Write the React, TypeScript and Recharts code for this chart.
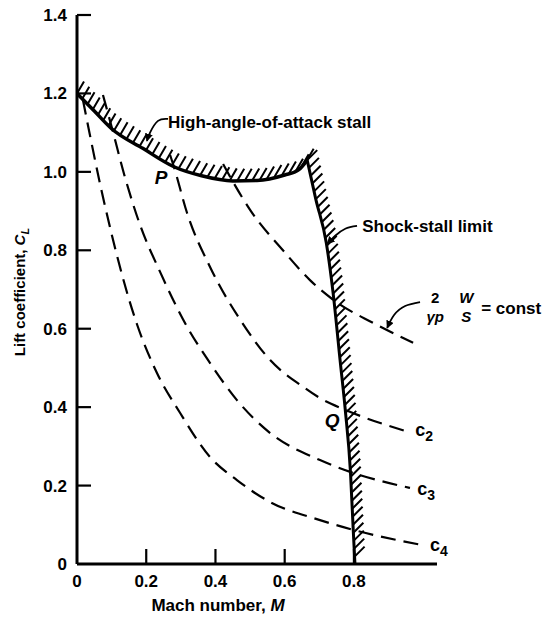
import { ComposedChart, Line, XAxis, YAxis, ReferenceDot } from 'recharts'

// axis ticks
const machTicks = [0, 0.2, 0.4, 0.6, 0.8]
const clTicks = [0, 0.2, 0.4, 0.6, 0.8, 1.0, 1.2, 1.4]

// high-angle-of-attack stall boundary
const stallM = [0, 0.05, 0.1, 0.19, 0.28, 0.36, 0.45, 0.52, 0.6, 0.64, 0.665]
const stallCL = [1.2, 1.155, 1.11, 1.06, 1.013, 0.99, 0.977, 0.978, 0.992, 1.005, 1.03]

// shock-stall limit
const shockM = [0.665, 0.69, 0.72, 0.74, 0.76, 0.775, 0.79, 0.798, 0.803]
const shockCL = [1.03, 0.93, 0.82, 0.69, 0.52, 0.393, 0.235, 0.087, 0]

// constant (2/γp)(W/S) curves
const constM = [0.422, 0.451, 0.5, 0.595, 0.673, 0.746, 0.855, 0.971]
const constCL = [1.02, 0.974, 0.903, 0.8, 0.724, 0.67, 0.615, 0.564]
const c2M = [0.269, 0.28, 0.318, 0.384, 0.475, 0.558, 0.653, 0.702, 0.775, 0.957]
const c2CL = [1.043, 1.013, 0.895, 0.758, 0.618, 0.52, 0.452, 0.423, 0.393, 0.337]
const c3M = [0.075, 0.1, 0.139, 0.182, 0.24, 0.318, 0.384, 0.462, 0.558, 0.702, 0.789, 0.962]
const c3CL = [1.196, 1.115, 0.985, 0.865, 0.745, 0.605, 0.513, 0.418, 0.334, 0.265, 0.235, 0.194]
const c4M = [0.017, 0.075, 0.173, 0.231, 0.298, 0.384, 0.462, 0.558, 0.702, 0.798, 1.0]
const c4CL = [1.184, 0.936, 0.612, 0.487, 0.385, 0.273, 0.214, 0.158, 0.112, 0.087, 0.048]

// leader lines for the notes
const leadHighM = [0.263, 0.234, 0.211, 0.202]
const leadHighCL = [1.135, 1.13, 1.1, 1.079]
const leadShockM = [0.809, 0.775, 0.746, 0.723]
const leadShockCL = [0.862, 0.855, 0.837, 0.816]
const leadConstM = [0.991, 0.948, 0.916, 0.896]
const leadConstCL = [0.668, 0.658, 0.635, 0.602]

const FONT = "'Liberation Sans', Arial, Helvetica, sans-serif"
const PX_X = 346
const PX_Y = 392

const pts = (ms: number[], cls: number[]) => ms.map((x, i) => ({ x, y: cls[i] }))

// short hatch strokes along a boundary, offset given in pixels
function hatch(ms: number[], cls: number[], step: number, dx: number, dy: number) {
  const out: { x: number; y: number | null }[] = []
  let t = 0
  for (let i = 0; i < ms.length - 1; i++) {
    const len = Math.hypot((ms[i + 1] - ms[i]) * PX_X, (cls[i + 1] - cls[i]) * PX_Y)
    while (t < len) {
      const f = t / len
      const x = ms[i] + (ms[i + 1] - ms[i]) * f
      const y = cls[i] + (cls[i + 1] - cls[i]) * f
      out.push({ x, y }, { x: x + dx / PX_X, y: y + dy / PX_Y }, { x, y: null })
      t += step
    }
    t -= len
  }
  return out
}

const fmt = (v: number) => (v === 0 ? '0' : v.toFixed(1))

const XTick = ({ x, y, payload }: any) => (
  <g>
    {payload.value > 0 && <line x1={x} x2={x} y1={y} y2={y - 15} stroke="#000" strokeWidth={2.2} />}
    <text x={x} y={y + 23} textAnchor="middle" fontFamily={FONT} fontSize={17} fontWeight="bold" fill="#000">
      {fmt(payload.value)}
    </text>
  </g>
)

const YTick = ({ x, y, payload }: any) => (
  <g>
    {payload.value > 0 && <line x1={x} x2={x + 14} y1={y} y2={y} stroke="#000" strokeWidth={2.2} />}
    <text x={x - 10} y={y + 6} textAnchor="end" fontFamily={FONT} fontSize={17} fontWeight="bold" fill="#000">
      {fmt(payload.value)}
    </text>
  </g>
)

const YTitle = () => (
  <text x={25} y={292} transform="rotate(-90 25 292)" textAnchor="middle" fontFamily={FONT} fontSize={15} fontWeight="bold" fill="#000">
    Lift coefficient, <tspan fontStyle="italic">C</tspan>
    <tspan fontStyle="italic" fontSize={11} dy={4}>L</tspan>
  </text>
)

const XTitle = () => (
  <text x={218} y={611} textAnchor="middle" fontFamily={FONT} fontSize={17} fontWeight="bold" fill="#000">
    Mach number, <tspan fontStyle="italic">M</tspan>
  </text>
)

const txt = { fontFamily: FONT, fontSize: 17, fontWeight: 'bold', fill: '#000' }

const Plain = (s: string) => (p: any) => (
  <text x={p.cx} y={p.cy} {...txt}>{s}</text>
)

const Letter = (s: string) => (p: any) => (
  <text x={p.cx} y={p.cy} dy={7} textAnchor="middle" {...txt} fontSize={19} fontStyle="italic">{s}</text>
)

const Sub = (n: string) => (p: any) => (
  <text x={p.cx} y={p.cy} dy={3} {...txt} fontSize={18}>
    c<tspan fontSize={14} dy={5}>{n}</tspan>
  </text>
)

const Fraction = (p: any) => (
  <g fontFamily={FONT} fontWeight="bold" fill="#000">
    <text x={p.cx + 10} y={p.cy - 4} textAnchor="middle" fontSize={15}>2</text>
    <text x={p.cx + 10} y={p.cy + 15} textAnchor="middle" fontSize={15} fontStyle="italic">γp</text>
    <text x={p.cx + 41} y={p.cy - 4} textAnchor="middle" fontSize={15} fontStyle="italic">W</text>
    <text x={p.cx + 41} y={p.cy + 15} textAnchor="middle" fontSize={15} fontStyle="italic">S</text>
    <text x={p.cx + 56} y={p.cy + 7} fontSize={17}>= const</text>
  </g>
)

const dashed = { stroke: '#000', strokeWidth: 2.2, strokeDasharray: '15 8', dot: false, isAnimationActive: false, type: 'monotone' as const }
const leader = { stroke: '#000', strokeWidth: 1.8, dot: false, isAnimationActive: false, type: 'natural' as const, markerEnd: 'url(#arrowHead)' }
const hatchStyle = { stroke: '#000', strokeWidth: 2, dot: false, isAnimationActive: false, type: 'linear' as const, connectNulls: false }

export default function App() {
  return (
    <div style={{ position: 'absolute', left: 0, top: 0, background: '#fff' }}>
      <ComposedChart width={552} height={618} margin={{ top: 15, right: 115, bottom: 0, left: 0 }}>
        <defs>
          <marker id="arrowHead" viewBox="0 0 10 10" refX="9" refY="5" markerWidth="8" markerHeight="8" orient="auto" markerUnits="userSpaceOnUse">
            <path d="M0,0 L10,5 L0,10 z" fill="#000" />
          </marker>
        </defs>
        <XAxis
          type="number"
          dataKey="x"
          domain={[0, 1.04]}
          ticks={machTicks}
          interval={0}
          height={54}
          tickSize={0}
          tickMargin={0}
          tick={<XTick />}
          axisLine={{ stroke: '#000', strokeWidth: 3 }}
          allowDataOverflow
          label={<XTitle />}
        />
        <YAxis
          type="number"
          domain={[0, 1.4]}
          ticks={clTicks}
          interval={0}
          width={77}
          tickSize={0}
          tickMargin={0}
          tick={<YTick />}
          axisLine={{ stroke: '#000', strokeWidth: 3 }}
          allowDataOverflow
          label={<YTitle />}
        />

        <Line data={hatch(stallM, stallCL, 7.5, 7, 12)} dataKey="y" {...hatchStyle} />
        <Line data={hatch(shockM, shockCL, 8, 10, 10)} dataKey="y" {...hatchStyle} />

        <Line data={pts(constM, constCL)} dataKey="y" {...dashed} />
        <Line data={pts(c2M, c2CL)} dataKey="y" {...dashed} />
        <Line data={pts(c3M, c3CL)} dataKey="y" {...dashed} />
        <Line data={pts(c4M, c4CL)} dataKey="y" {...dashed} />

        <Line data={pts(stallM, stallCL)} dataKey="y" stroke="#000" strokeWidth={3.5} dot={false} type="monotone" isAnimationActive={false} />
        <Line data={pts(shockM, shockCL)} dataKey="y" stroke="#000" strokeWidth={3} dot={false} type="monotone" isAnimationActive={false} />

        <Line data={pts(leadHighM, leadHighCL)} dataKey="y" {...leader} />
        <Line data={pts(leadShockM, leadShockCL)} dataKey="y" {...leader} />
        <Line data={pts(leadConstM, leadConstCL)} dataKey="y" {...leader} />

        <ReferenceDot x={0.263} y={1.112} r={0} ifOverflow="visible" shape={Plain('High-angle-of-attack stall')} />
        <ReferenceDot x={0.824} y={0.847} r={0} ifOverflow="visible" shape={Plain('Shock-stall limit')} />
        <ReferenceDot x={1.006} y={0.656} r={0} ifOverflow="visible" shape={Fraction} />
        <ReferenceDot x={0.243} y={0.987} r={0} ifOverflow="visible" shape={Letter('P')} />
        <ReferenceDot x={0.737} y={0.367} r={0} ifOverflow="visible" shape={Letter('Q')} />
        <ReferenceDot x={0.977} y={0.334} r={0} ifOverflow="visible" shape={Sub('2')} />
        <ReferenceDot x={0.983} y={0.184} r={0} ifOverflow="visible" shape={Sub('3')} />
        <ReferenceDot x={1.02} y={0.041} r={0} ifOverflow="visible" shape={Sub('4')} />
      </ComposedChart>
    </div>
  )
}
